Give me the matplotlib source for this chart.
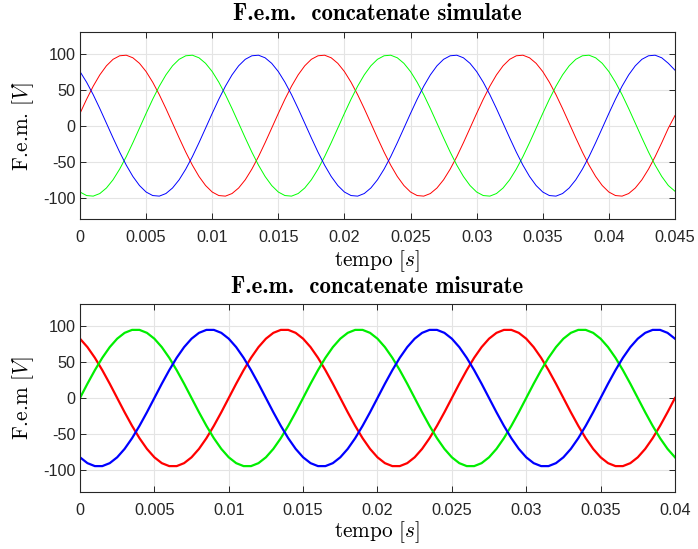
import numpy as np
import matplotlib
matplotlib.use("Agg")
import matplotlib.pyplot as plt

# ------------------------
# Data (values read off the chart, sampled every 0.5 ms)
# ------------------------
dt = 0.0005

# simulated EMF, 0 .. 0.045 s
sim_red = [
    17.0, 36.7, 54.8, 70.5, 83.1, 92.1, 97.0, 97.8, 94.2, 86.5, 75.1, 60.3, 43.0, 23.7, 3.4,
    -17.0, -36.7, -54.8, -70.5, -83.1, -92.1, -97.0, -97.8, -94.2, -86.5, -75.1, -60.3, -43.0, -23.7, -3.4,
    17.0, 36.7, 54.8, 70.5, 83.1, 92.1, 97.0, 97.8, 94.2, 86.5, 75.1, 60.3, 43.0, 23.7, 3.4,
    -17.0, -36.7, -54.8, -70.5, -83.1, -92.1, -97.0, -97.8, -94.2, -86.5, -75.1, -60.3, -43.0, -23.7, -3.4,
    17.0, 36.7, 54.8, 70.5, 83.1, 92.1, 97.0, 97.8, 94.2, 86.5, 75.1, 60.3, 43.0, 23.7, 3.4,
    -17.0, -36.7, -54.8, -70.5, -83.1, -92.1, -97.0, -97.8, -94.2, -86.5, -75.1, -60.3, -43.0, -23.7, -3.4,
    14.0,
]
sim_green = [
    -92.1, -97.0, -97.8, -94.2, -86.5, -75.1, -60.3, -43.0, -23.7, -3.4, 17.0, 36.7, 54.8, 70.5, 83.1,
    92.1, 97.0, 97.8, 94.2, 86.5, 75.1, 60.3, 43.0, 23.7, 3.4, -17.0, -36.7, -54.8, -70.5, -83.1,
    -92.1, -97.0, -97.8, -94.2, -86.5, -75.1, -60.3, -43.0, -23.7, -3.4, 17.0, 36.7, 54.8, 70.5, 83.1,
    92.1, 97.0, 97.8, 94.2, 86.5, 75.1, 60.3, 43.0, 23.7, 3.4, -17.0, -36.7, -54.8, -70.5, -83.1,
    -92.1, -97.0, -97.8, -94.2, -86.5, -75.1, -60.3, -43.0, -23.7, -3.4, 17.0, 36.7, 54.8, 70.5, 83.1,
    92.1, 97.0, 97.8, 94.2, 86.5, 75.1, 60.3, 43.0, 23.7, 3.4, -17.0, -36.7, -54.8, -70.5, -83.1,
    -91.0,
]
sim_blue = [
    75.1, 60.3, 43.0, 23.7, 3.4, -17.0, -36.7, -54.8, -70.5, -83.1, -92.1, -97.0, -97.8, -94.2, -86.5,
    -75.1, -60.3, -43.0, -23.7, -3.4, 17.0, 36.7, 54.8, 70.5, 83.1, 92.1, 97.0, 97.8, 94.2, 86.5,
    75.1, 60.3, 43.0, 23.7, 3.4, -17.0, -36.7, -54.8, -70.5, -83.1, -92.1, -97.0, -97.8, -94.2, -86.5,
    -75.1, -60.3, -43.0, -23.7, -3.4, 17.0, 36.7, 54.8, 70.5, 83.1, 92.1, 97.0, 97.8, 94.2, 86.5,
    75.1, 60.3, 43.0, 23.7, 3.4, -17.0, -36.7, -54.8, -70.5, -83.1, -92.1, -97.0, -97.8, -94.2, -86.5,
    -75.1, -60.3, -43.0, -23.7, -3.4, 17.0, 36.7, 54.8, 70.5, 83.1, 92.1, 97.0, 97.8, 94.2, 86.5,
    77.0,
]

# measured EMF, 0 .. 0.04 s
mis_red = [
    82.3, 70.6, 55.8, 38.6, 19.8, 0.0, -19.8, -38.6, -55.8, -70.6, -82.3, -90.4, -94.5, -94.5, -90.4,
    -82.3, -70.6, -55.8, -38.6, -19.8, 0.0, 19.8, 38.6, 55.8, 70.6, 82.3, 90.4, 94.5, 94.5, 90.4,
    82.3, 70.6, 55.8, 38.6, 19.8, 0.0, -19.8, -38.6, -55.8, -70.6, -82.3, -90.4, -94.5, -94.5, -90.4,
    -82.3, -70.6, -55.8, -38.6, -19.8, 0.0, 19.8, 38.6, 55.8, 70.6, 82.3, 90.4, 94.5, 94.5, 90.4,
    82.3, 70.6, 55.8, 38.6, 19.8, 0.0, -19.8, -38.6, -55.8, -70.6, -82.3, -90.4, -94.5, -94.5, -90.4,
    -82.3, -70.6, -55.8, -38.6, -19.8, 0.0,
]
mis_green = [
    0.0, 19.8, 38.6, 55.8, 70.6, 82.3, 90.4, 94.5, 94.5, 90.4, 82.3, 70.6, 55.8, 38.6, 19.8,
    0.0, -19.8, -38.6, -55.8, -70.6, -82.3, -90.4, -94.5, -94.5, -90.4, -82.3, -70.6, -55.8, -38.6, -19.8,
    0.0, 19.8, 38.6, 55.8, 70.6, 82.3, 90.4, 94.5, 94.5, 90.4, 82.3, 70.6, 55.8, 38.6, 19.8,
    0.0, -19.8, -38.6, -55.8, -70.6, -82.3, -90.4, -94.5, -94.5, -90.4, -82.3, -70.6, -55.8, -38.6, -19.8,
    0.0, 19.8, 38.6, 55.8, 70.6, 82.3, 90.4, 94.5, 94.5, 90.4, 82.3, 70.6, 55.8, 38.6, 19.8,
    0.0, -19.8, -38.6, -55.8, -70.6, -82.3,
]
mis_blue = [
    -82.3, -90.4, -94.5, -94.5, -90.4, -82.3, -70.6, -55.8, -38.6, -19.8, 0.0, 19.8, 38.6, 55.8, 70.6,
    82.3, 90.4, 94.5, 94.5, 90.4, 82.3, 70.6, 55.8, 38.6, 19.8, 0.0, -19.8, -38.6, -55.8, -70.6,
    -82.3, -90.4, -94.5, -94.5, -90.4, -82.3, -70.6, -55.8, -38.6, -19.8, 0.0, 19.8, 38.6, 55.8, 70.6,
    82.3, 90.4, 94.5, 94.5, 90.4, 82.3, 70.6, 55.8, 38.6, 19.8, 0.0, -19.8, -38.6, -55.8, -70.6,
    -82.3, -90.4, -94.5, -94.5, -90.4, -82.3, -70.6, -55.8, -38.6, -19.8, 0.0, 19.8, 38.6, 55.8, 70.6,
    82.3, 90.4, 94.5, 94.5, 90.4, 82.3,
]

sim_xticks = [0, 0.005, 0.01, 0.015, 0.02, 0.025, 0.03, 0.035, 0.04, 0.045]
mis_xticks = [0, 0.005, 0.01, 0.015, 0.02, 0.025, 0.03, 0.035, 0.04]
yticks = [-100, -50, 0, 50, 100]
ytick_labels = ["-100", "-50", "0", "50", "100"]

t_sim = np.arange(len(sim_red)) * dt
t_mis = np.arange(len(mis_red)) * dt

# ------------------------
# Style (MATLAB-like)
# ------------------------
plt.rcParams['mathtext.fontset'] = 'cm'
plt.rcParams['font.family'] = ['Liberation Sans', 'DejaVu Sans']
axis_col = '#262626'
grid_col = '#e4e4e4'
lab_fs = 15.3
title_fs = 16.5


def style_axes(ax, xticks, xmax):
    ax.set_xlim(0, xmax)
    ax.set_ylim(-130, 130)
    ax.set_xticks(xticks)
    ax.set_xticklabels([f"{v:g}" for v in xticks])
    ax.set_yticks(yticks)
    ax.set_yticklabels(ytick_labels)
    ax.grid(True, color=grid_col, linewidth=0.8)
    ax.set_axisbelow(True)
    ax.tick_params(direction='in', length=4.3, width=0.7, colors=axis_col,
                   labelsize=11.7, top=True, right=True)
    ax.tick_params(axis='x', pad=8)
    ax.tick_params(axis='y', pad=3)
    for s in ax.spines.values():
        s.set_color(axis_col)
        s.set_linewidth(0.8)


fig = plt.figure(figsize=(6.98, 5.49), dpi=100)
ax1 = fig.add_axes([0.1146, 0.6005, 0.8524, 0.3412])
ax2 = fig.add_axes([0.1146, 0.1044, 0.8524, 0.3413])

ax1.plot(t_sim, sim_red, color='red', linewidth=0.7)
ax1.plot(t_sim, sim_green, color='#00ff00', linewidth=0.7)
ax1.plot(t_sim, sim_blue, color='blue', linewidth=0.7)
style_axes(ax1, sim_xticks, 0.045)
ax1.set_title('F.e.m.  concatenate simulate', family='cmb10', fontsize=title_fs, pad=9)
ax1.set_ylabel('F.e.m. $[V]$', family='cmr10', fontsize=lab_fs, labelpad=5)
ax1.set_xlabel('tempo $[s]$', family='cmr10', fontsize=lab_fs, labelpad=2)

ax2.plot(t_mis, mis_red, color='red', linewidth=1.6)
ax2.plot(t_mis, mis_green, color='#00ee00', linewidth=1.6)
ax2.plot(t_mis, mis_blue, color='blue', linewidth=1.6)
style_axes(ax2, mis_xticks, 0.04)
ax2.set_title('F.e.m.  concatenate misurate', family='cmb10', fontsize=title_fs, pad=8.5)
ax2.set_ylabel('F.e.m $[V]$', family='cmr10', fontsize=lab_fs, labelpad=5)
ax2.set_xlabel('tempo $[s]$', family='cmr10', fontsize=lab_fs, labelpad=1)

plt.savefig("out.png", dpi=100)
